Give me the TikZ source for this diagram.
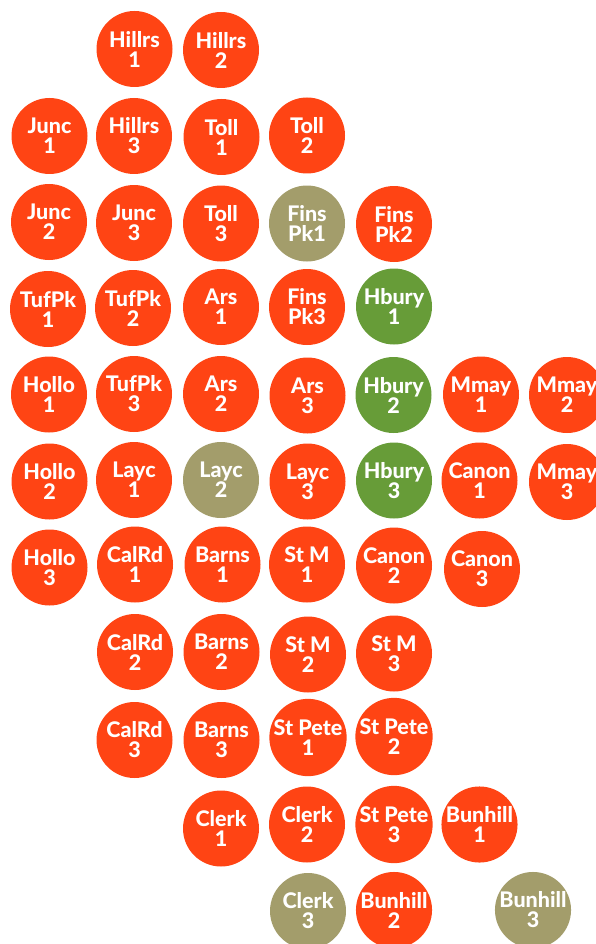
\documentclass[tikz,border=0pt]{standalone}
\usepackage{fontspec}
\setmainfont{Lato}[BoldFont={Lato Heavy}]
\usepackage{tikz}
\definecolor{stnred}{RGB}{255,68,20}
\definecolor{stnolive}{RGB}{163,157,107}
\definecolor{stngreen}{RGB}{103,156,56}
\tikzset{
  stn/.style={circle, minimum size=76pt, inner sep=0pt, text=white, align=center,
    font=\bfseries\fontsize{21.5}{20}\selectfont, yshift=-2pt},
  redstn/.style={stn, fill=stnred},
  olivestn/.style={stn, fill=stnolive},
  greenstn/.style={stn, fill=stngreen}
}
\begin{document}
\begin{tikzpicture}[x=1pt, y=-1pt]
    \useasboundingbox (0,0) rectangle (596,944);
    % row 1
    \node[redstn] (hillrs1) at (134.5,47) {Hillrs\\1};
    \node[redstn] (hillrs2) at (221,48) {Hillrs\\2};
    % row 2
    \node[redstn] (junc1) at (49.5,134) {Junc\\1};
    \node[redstn] (hillrs3) at (134,134) {Hillrs\\3};
    \node[redstn] (toll1) at (221.5,135) {Toll\\1};
    \node[redstn] (toll2) at (307,133.5) {Toll\\2};
    % row 3
    \node[redstn] (junc2) at (49,220) {Junc\\2};
    \node[redstn] (junc3) at (134,221) {Junc\\3};
    \node[redstn] (toll3) at (221,221.5) {Toll\\3};
    \node[olivestn] (finspk1) at (307,221.5) {Fins\\Pk1};
    \node[redstn] (finspk2) at (394,222) {Fins\\Pk2};
    % row 4
    \node[redstn] (tufpk1) at (48,307) {TufPk\\1};
    \node[redstn] (tufpk2) at (133,306) {TufPk\\2};
    \node[redstn] (ars1) at (221,305) {Ars\\1};
    \node[redstn] (finspk3) at (307,305) {Fins\\Pk3};
    \node[greenstn] (hbury1) at (394,304.5) {Hbury\\1};
    % row 5
    \node[redstn] (hollo1) at (49,392.5) {Hollo\\1};
    \node[redstn] (tufpk3) at (134,392) {TufPk\\3};
    \node[redstn] (ars2) at (221,392) {Ars\\2};
    \node[redstn] (ars3) at (307.5,393.5) {Ars\\3};
    \node[greenstn] (hbury2) at (393.5,393) {Hbury\\2};
    \node[redstn] (mmay1) at (481,392.5) {Mmay\\1};
    \node[redstn] (mmay2) at (567,393) {Mmay\\2};
    % row 6
    \node[redstn] (hollo2) at (49.5,479.5) {Hollo\\2};
    \node[redstn] (layc1) at (134,478) {Layc\\1};
    \node[olivestn] (layc2) at (221,478) {Layc\\2};
    \node[redstn] (layc3) at (307.5,479.5) {Layc\\3};
    \node[greenstn] (hbury3) at (394,478.5) {Hbury\\3};
    \node[redstn] (canon1) at (479.5,478.5) {Canon\\1};
    \node[redstn] (mmay3) at (567,480) {Mmay\\3};
    % row 7
    \node[redstn] (hollo3) at (49.5,565.5) {Hollo\\3};
    \node[redstn] (calrd1) at (135,562.5) {CalRd\\1};
    \node[redstn] (barns1) at (222.5,562.5) {Barns\\1};
    \node[redstn] (stm1) at (307,562.5) {St M\\1};
    \node[redstn] (canon2) at (394,563.5) {Canon\\2};
    \node[redstn] (canon3) at (482,567) {Canon\\3};
    % row 8
    \node[redstn] (calrd2) at (135,650) {CalRd\\2};
    \node[redstn] (barns2) at (221.5,650) {Barns\\2};
    \node[redstn] (stm2) at (308,652.5) {St M\\2};
    \node[redstn] (stm3) at (394,651.5) {St M\\3};
    % row 9
    \node[redstn] (calrd3) at (134.5,738) {CalRd\\3};
    \node[redstn] (barns3) at (221.5,738) {Barns\\3};
    \node[redstn] (stpete1) at (308,735.5) {St Pete\\1};
    \node[redstn] (stpete2) at (394,734.5) {St Pete\\2};
    % row 10
    \node[redstn] (clerk1) at (221,826.5) {Clerk\\1};
    \node[redstn] (clerk2) at (307,822.5) {Clerk\\2};
    \node[redstn] (stpete3) at (394,822.5) {St Pete\\3};
    \node[redstn] (bunhill1) at (479.5,822.5) {Bunhill\\1};
    % row 11
    \node[olivestn] (clerk3) at (308,909) {Clerk\\3};
    \node[redstn] (bunhill2) at (394,908) {Bunhill\\2};
    \node[olivestn] (bunhill3) at (533,908) {Bunhill\\3};
\end{tikzpicture}
\end{document}
